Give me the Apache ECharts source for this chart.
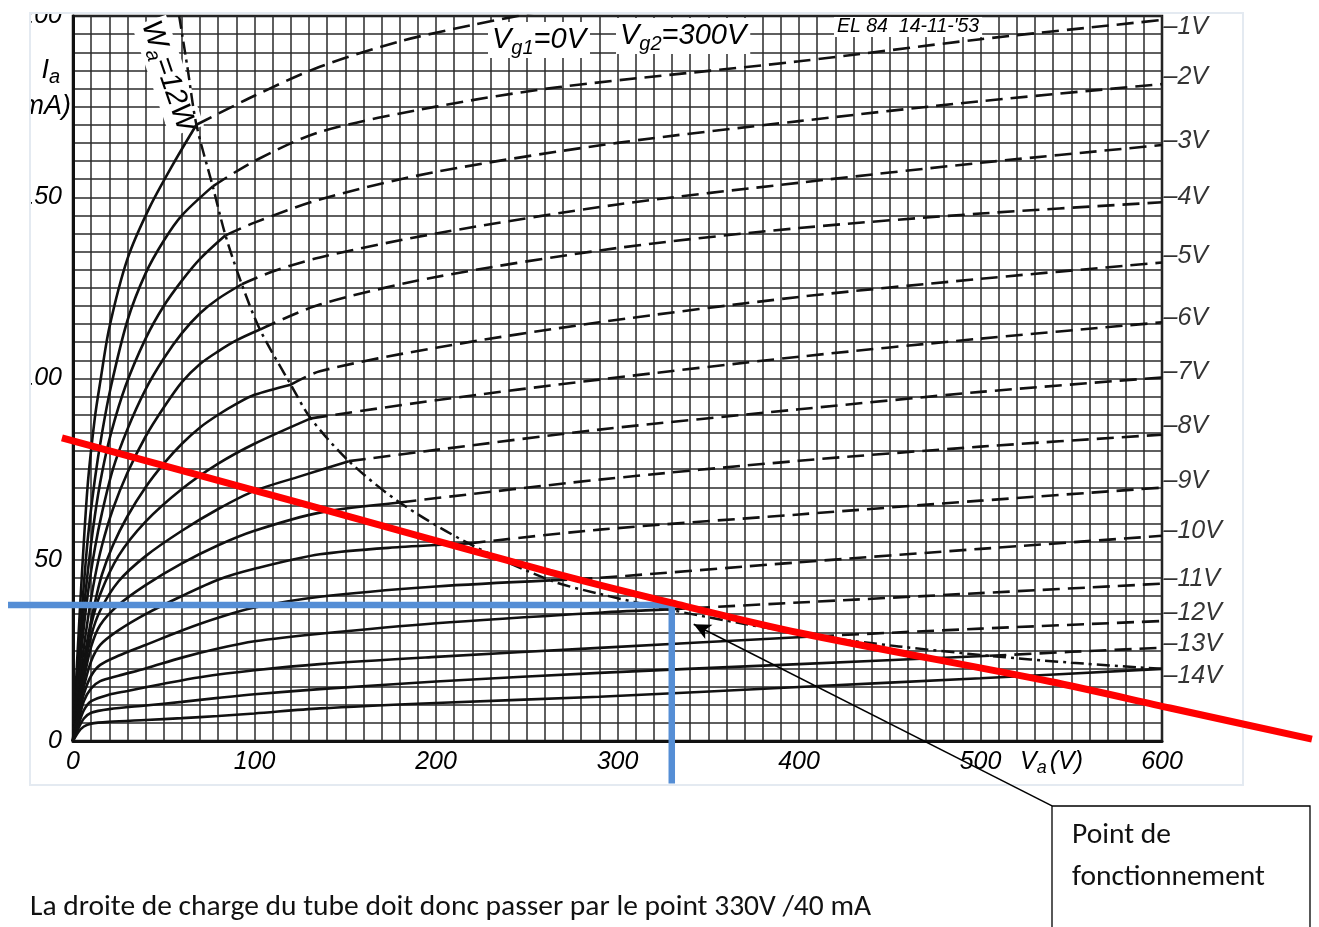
<!DOCTYPE html>
<html>
<head>
<meta charset="utf-8">
<title>EL84 - droite de charge</title>
<script src="https://cdn.jsdelivr.net/npm/echarts@6/dist/echarts.min.js"></script>
<style>
  html, body { margin: 0; padding: 0; background: #fff; }
  #chart-container { width: 1319px; height: 927px; }
</style>
</head>
<body>
<div id="chart-container"></div>
<script>
// EL84 anode curves, Va (V) / Ia (mA)
// "solid" = part under the 12 W line, "dash" = part above it
var solid0 = [[0,0],[4,38],[8,70],[12,89],[15,99],[20,114],[30,133],[42,147],[55,159],[68,170]];
var dash0 = [[68,170],[100,178],[136,186],[180,193],[220,197.5],[265,202]];
var solid1 = [[0,0],[4,30],[8,55],[12,72],[16,85],[21,98],[30,116],[40,129],[50,138],[60,145],[77,153]];
var dash1 = [[77,153],[100,160],[136,168],[200,175],[268,180.4],[400,187.5],[500,193.6],[600,198.9]];
var solid2 = [[0,0],[4,26],[8,46],[12,62],[16,74],[21,85],[29,98],[40,111],[50,120],[60,127],[70,133],[84,139.5]];
var dash2 = [[84,139.5],[100,143],[136,149.4],[200,157],[300,165],[400,171],[500,176.5],[600,181.2]];
var solid3 = [[0,0],[4,22],[8,40],[12,53],[16,63],[22,75],[30,86],[40,97],[50,105.5],[60,112.5],[70,118],[80,122],[93,126]];
var dash3 = [[93,126],[110,129.5],[136,133.4],[200,140],[300,148],[400,154],[500,159.5],[600,164.4]];
var solid4 = [[0,0],[4,18],[8,33],[12,45],[16,54],[22,64],[30,74],[40,84],[50,92],[60,99],[70,104],[80,107.5],[90,110.5],[103,113.5]];
var dash4 = [[103,113.5],[136,120.4],[200,128],[300,136],[400,141.5],[500,145.5],[600,148.6]];
var solid5 = [[0,0],[4,15],[8,28],[12,38],[16,46],[22,54],[30,62],[40,70],[50,76.5],[60,82],[70,86.5],[80,90],[90,93],[100,95.5],[120,98.3]];
var dash5 = [[120,98.3],[136,102],[200,108.5],[290,115.5],[400,122.5],[500,127.5],[600,132]];
var solid6 = [[0,0],[3,10.5],[6,21],[10,32],[15,40.5],[25,51],[40,60.5],[60,69.5],[80,76.5],[100,82],[131,89]];
var dash6 = [[131,89],[200,94],[290,99.7],[400,106],[500,111],[600,115.5]];
var solid7 = [[0,0],[3,9.5],[6,19],[10,29],[15,36],[25,44],[40,51],[60,58],[80,64],[100,69],[125,73],[152,77.2]];
var dash7 = [[152,77.2],[200,80.3],[290,85.9],[400,91.5],[500,96.3],[600,100.3]];
var solid8 = [[0,0],[3,8.5],[6,17],[10,26],[15,32],[25,37.5],[40,43],[60,49],[80,54],[100,58],[136,63],[180,65.8]];
var dash8 = [[180,65.8],[290,72.1],[400,77.3],[500,81.2],[600,84.5]];
var solid9 = [[0,0],[3,7.5],[6,15],[10,22],[15,26.5],[25,30.5],[40,35],[60,40],[80,44.5],[100,47.5],[136,51.5],[180,53.5],[218,54.5]];
var dash9 = [[218,54.5],[290,58.3],[400,62.5],[500,66.3],[600,69.9]];
var solid10 = [[0,0],[3,6.5],[6,13],[10,18],[15,21],[25,23.5],[40,26.5],[60,30.5],[80,34],[100,36.8],[136,39.8],[200,42.6],[263,44.3]];
var dash10 = [[263,44.3],[290,45],[400,49.3],[500,53],[600,56.6]];
var solid11 = [[0,0],[3,5.5],[6,11],[10,14.5],[15,16.5],[25,18],[40,20],[60,23],[80,25.5],[100,27.5],[136,29.6],[200,32.5],[290,35.4],[328,36.3]];
var dash11 = [[328,36.3],[400,38.2],[500,40.8],[600,43.4]];
var solid12 = [[0,0],[3,4.5],[6,8.5],[10,11],[20,12.8],[30,13.8],[50,15.8],[70,17.6],[100,19.5],[136,21.2],[200,23.2],[290,25.7],[410,28.9]];
var dash12 = [[410,28.9],[500,31],[600,33.1]];
var solid13 = [[0,0],[3,3.5],[6,6.2],[10,7.8],[20,8.8],[40,9.8],[60,10.8],[80,11.9],[100,12.9],[136,14.3],[200,16.4],[290,18.8],[400,21.2],[505,23.5]];
var dash13 = [[505,23.5],[550,24.6],[600,25.7]];
var solid14 = [[0,0],[3,2.5],[6,4],[10,4.8],[20,5.3],[40,5.8],[60,6.3],[80,6.9],[100,7.6],[136,9],[200,10.5],[290,12.2],[400,14.9],[500,17.3],[600,19.9]];

// Wa = 12 W dissipation limit
var powerLimit = [[58.5,200],[63,186],[68,170],[77,153],[84,139.5],[93,126],[103,113.5],[120,98.3],[131,89],[152,77.2],[180,65.8],[218,54.5],[263,44.3],[290,40.6],[328,36.3],[370,32.3],[410,28.9],[455,26.1],[505,23.5],[550,21.6],[600,19.9]];

// right-hand Vg1 labels
var vg1Names = ['1V','2V','3V','4V','5V','6V','7V','8V','9V','10V','11V','12V','13V','14V'];
var vg1LabelIa = [197,183.2,165.5,150,133.7,116.8,101.7,86.8,71.6,58,44.8,35.4,26.8,18];

// load line drawn over the scan (red) and the operating point (blue)
var loadLine = [[-6.1,83.6],[125,65.7],[262.8,46.6],[329.9,38.1],[400.6,29.8],[538.3,16.4],[604.4,9.1],[682.6,0.5]];
var qVa = 329.9;
var qIa = 37.5;
var qLeftVa = -35.8;
var qBottomIa = -11.7;
// callout arrow: tip near the operating point, tail at the text box corner
var arrowTip = [342, 32.2];
var arrowTail = [539.4, -17.9];

var dom = document.getElementById("chart-container");
var myChart = echarts.init(dom, null, { renderer: "canvas" });

var dsFont = "'Liberation Sans', Arial, sans-serif";
var txtFont = "Carlito, Lato, 'Open Sans', sans-serif";

// pixel frame of the datasheet plot
var plotLeft = 73, plotRight = 157, plotTop = 16, plotBottom = 186;
var W = 1319, H = 927;
var pxPerV = (W - plotLeft - plotRight) / 600;
var pxPerMA = (H - plotTop - plotBottom) / 200;

var solids = [solid0, solid1, solid2, solid3, solid4, solid5, solid6, solid7, solid8, solid9, solid10, solid11, solid12, solid13, solid14];
var dashes = [dash0, dash1, dash2, dash3, dash4, dash5, dash6, dash7, dash8, dash9, dash10, dash11, dash12, dash13, null];

var series = [];
solids.forEach(function (d, i) {
  series.push({
    type: "line",
    name: "Vg1=-" + i + "V",
    data: d,
    showSymbol: false,
    smooth: 0.3,
    silent: true,
    z: 3,
    lineStyle: { color: "#111", width: 2.6 }
  });
  if (dashes[i]) {
    series.push({
      type: "line",
      name: "Vg1=-" + i + "V dash",
      data: dashes[i],
      showSymbol: false,
      smooth: 0.3,
      silent: true,
      z: 3,
      lineStyle: { color: "#111", width: 2.6, type: [17, 8] }
    });
  }
});

series.push({
  type: "line",
  name: "Wa=12W",
  data: powerLimit,
  showSymbol: false,
  smooth: 0.3,
  silent: true,
  z: 3,
  lineStyle: { color: "#111", width: 2.5, type: [13, 5, 3, 5] }
});

series.push({
  type: "scatter",
  name: "labels",
  data: vg1LabelIa.map(function (v) { return [600, v]; }),
  symbolSize: 1,
  itemStyle: { color: "rgba(0,0,0,0)" },
  silent: true,
  label: {
    show: true,
    position: "right",
    distance: 1,
    formatter: function (p) { return "\u2013" + vg1Names[p.dataIndex]; },
    fontFamily: dsFont,
    fontStyle: "italic",
    fontSize: 25,
    color: "#000"
  }
});

// overlays live in a second, invisible grid spanning the whole page with the same scale
series.push({
  type: "line",
  name: "operating point",
  xAxisIndex: 1,
  yAxisIndex: 1,
  data: [[qLeftVa, qIa], [qVa, qIa], [qVa, qBottomIa]],
  showSymbol: false,
  clip: false,
  silent: true,
  z: 4,
  lineStyle: { color: "#558ed5", width: 6.5, join: "miter" }
});

series.push({
  type: "line",
  name: "load line",
  xAxisIndex: 1,
  yAxisIndex: 1,
  data: loadLine,
  showSymbol: false,
  smooth: 0.3,
  clip: false,
  silent: true,
  z: 5,
  lineStyle: { color: "#ff0000", width: 7 }
});

series.push({
  type: "line",
  name: "arrow",
  xAxisIndex: 1,
  yAxisIndex: 1,
  data: [
    { value: arrowTip, symbol: "arrow", symbolSize: [12, 17], symbolRotate: 63 },
    { value: arrowTail, symbol: "none" }
  ],
  showSymbol: true,
  clip: false,
  silent: true,
  z: 6,
  itemStyle: { color: "#000" },
  lineStyle: { color: "#000", width: 1.5 }
});

var gridLine = { show: true, lineStyle: { color: "#2b2b2b", width: 1.5 } };
var numLabel = { fontSize: 25, fontStyle: "italic", color: "#000", fontFamily: dsFont };

option = {
  animation: false,
  backgroundColor: "#fff",
  textStyle: { fontFamily: dsFont },
  grid: [
    { left: plotLeft, right: plotRight, top: plotTop, bottom: plotBottom, show: true, borderColor: "#111", borderWidth: 2.5 },
    { left: 0, right: 0, top: 0, bottom: 0 }
  ],
  xAxis: [
    {
      type: "value",
      min: 0,
      max: 600,
      interval: 100,
      axisLine: { show: true, onZero: false, lineStyle: { color: "#111", width: 3 } },
      axisTick: { show: false },
      minorTick: { show: false, splitNumber: 10 },
      splitLine: gridLine,
      minorSplitLine: gridLine,
      axisLabel: Object.assign({ margin: 9 }, numLabel)
    },
    {
      type: "value",
      gridIndex: 1,
      min: -plotLeft / pxPerV,
      max: 600 + plotRight / pxPerV,
      show: false
    }
  ],
  yAxis: [
    {
      type: "value",
      min: 0,
      max: 200,
      interval: 50,
      axisLine: { show: true, onZero: false, lineStyle: { color: "#111", width: 3 } },
      axisTick: { show: false },
      minorTick: { show: false, splitNumber: 10 },
      splitLine: gridLine,
      minorSplitLine: gridLine,
      axisLabel: Object.assign({ margin: 11 }, numLabel)
    },
    {
      type: "value",
      gridIndex: 1,
      min: -plotBottom / pxPerMA,
      max: 200 + plotTop / pxPerMA,
      show: false
    }
  ],
  graphic: [
    {
      type: "text", z: 1, z2: 0, x: 60, y: 70,
      style: {
        text: "{m|I}{s|a}", align: "right", verticalAlign: "middle",
        rich: {
          m: { fontFamily: dsFont, fontStyle: "italic", fontSize: 27, fill: "#000" },
          s: { fontFamily: dsFont, fontStyle: "italic", fontSize: 20, fill: "#000", padding: [14, 0, 0, 0] }
        }
      }
    },
    { type: "text", z: 1, z2: 0, x: 71, y: 106, style: { text: "(mA)", align: "right", verticalAlign: "middle", font: "italic 27px " + dsFont, fill: "#000" } },
    // the scan is cut on the left and at the top
    { type: "rect", z: 1, z2: 10, shape: { x: 0, y: 0, width: 30, height: 927 }, style: { fill: "#fff" }, silent: true },
    { type: "rect", z: 1, z2: 10, shape: { x: 0, y: 0, width: 1319, height: 13 }, style: { fill: "#fff" }, silent: true },
    { type: "rect", z: 1, z2: 11, shape: { x: 30, y: 13, width: 1213, height: 772 }, style: { fill: null, stroke: "#e4eaf1", lineWidth: 2 }, silent: true },
    {
      type: "text", z: 2, x: 1020, y: 762,
      style: {
        text: "{m|V}{s|a}{m|(V)}", verticalAlign: "middle", backgroundColor: "#fff",
        rich: {
          m: { fontFamily: dsFont, fontStyle: "italic", fontSize: 25, fill: "#000" },
          s: { fontFamily: dsFont, fontStyle: "italic", fontSize: 18, fill: "#000", padding: [12, 3, 0, 0] }
        }
      }
    },
    {
      type: "text", z: 1, z2: 5, x: 488, y: 40,
      style: {
        text: "{m|V}{s|g1}{m|=0V}", verticalAlign: "middle", backgroundColor: "#fff", padding: [0, 4],
        rich: {
          m: { fontFamily: dsFont, fontStyle: "italic", fontSize: 29, fill: "#000" },
          s: { fontFamily: dsFont, fontStyle: "italic", fontSize: 20, fill: "#000", padding: [16, 0, 0, 0] }
        }
      }
    },
    {
      type: "text", z: 1, z2: 5, x: 616, y: 36,
      style: {
        text: "{m|V}{s|g2}{m|=300V}", verticalAlign: "middle", backgroundColor: "#fff", padding: [0, 4],
        rich: {
          m: { fontFamily: dsFont, fontStyle: "italic", fontSize: 29, fill: "#000" },
          s: { fontFamily: dsFont, fontStyle: "italic", fontSize: 20, fill: "#000", padding: [16, 0, 0, 0] }
        }
      }
    },
    {
      type: "text", z: 1, z2: 5, x: 834, y: 27,
      style: { text: "EL 84  14-11-'53", verticalAlign: "middle", font: "italic 19.5px " + dsFont, fill: "#000", backgroundColor: "#fff", padding: [0, 3] }
    },
    {
      type: "text", z: 1, z2: 5, x: 168, y: 76, rotation: -71 * Math.PI / 180,
      style: {
        text: "{m|W}{s|a}{m|=12W}", align: "center", verticalAlign: "middle", backgroundColor: "#fff", padding: [0, 1],
        rich: {
          m: { fontFamily: dsFont, fontStyle: "italic", fontSize: 29, fill: "#000" },
          s: { fontFamily: dsFont, fontStyle: "italic", fontSize: 20, fill: "#000", padding: [16, 0, 0, 0] }
        }
      }
    },
    // callout box
    { type: "rect", z: 7, shape: { x: 1052, y: 806, width: 258, height: 140 }, style: { fill: "#fff", stroke: "#000", lineWidth: 1.3 }, silent: true },
    { type: "text", z: 7, z2: 2, x: 1072, y: 836, style: { text: "Point de", verticalAlign: "middle", font: "29.5px " + txtFont, fill: "#111" } },
    { type: "text", z: 7, z2: 2, x: 1072, y: 878, style: { text: "fonctionnement", verticalAlign: "middle", font: "29.5px " + txtFont, fill: "#111" } },
    { type: "text", z: 7, x: 30, y: 908, style: { text: "La droite de charge du tube doit donc passer par le point 330V /40 mA", verticalAlign: "middle", font: "29.5px " + txtFont, fill: "#111" } }
  ],
  series: series
};

if (option && typeof option === "object") {
  myChart.setOption(option);
}

window.addEventListener("resize", myChart.resize);
</script>
</body>
</html>
